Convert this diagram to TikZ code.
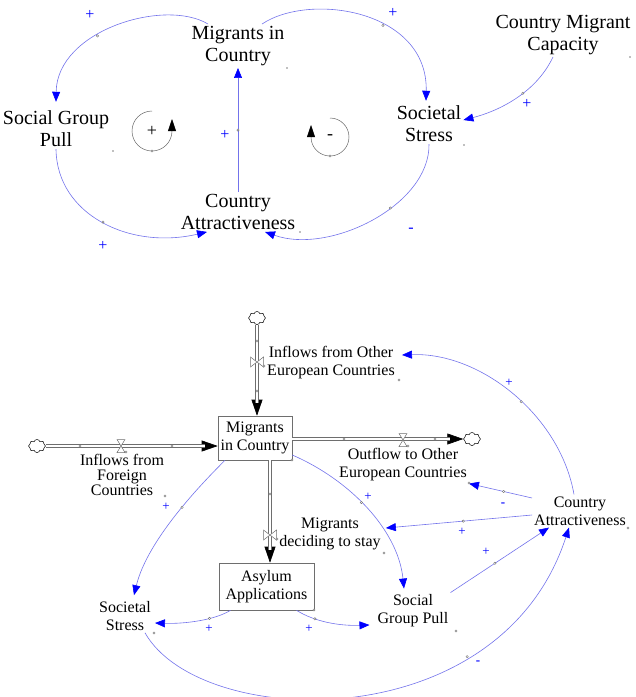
\documentclass[tikz,border=0pt]{standalone}
\usepackage{fontspec}
\setmainfont{Liberation Serif}
\usetikzlibrary{arrows.meta,shapes.symbols}
\definecolor{linkcol}{RGB}{115,115,235}
\definecolor{pipecol}{RGB}{110,110,110}
\tikzset{
  var/.style={font=\fontsize{20}{22}\selectfont, align=center, inner sep=2pt},
  svar/.style={font=\fontsize{16}{18}\selectfont, align=center, inner sep=2pt},
  stock/.style={svar, draw=pipecol, line width=0.6pt, minimum width=74pt, minimum height=44pt},
  link/.style={draw=linkcol, line width=0.6pt, -{Triangle[length=10pt,width=8pt,color=blue]}},
  pol/.style={text=blue, font=\fontsize{16}{16}\selectfont, inner sep=0pt},
  spol/.style={text=blue, font=\fontsize{13}{13}\selectfont, inner sep=0pt},
  pipe/.style={draw=pipecol, double=white, double distance=2.4pt, line width=0.6pt, shorten >=13pt},
  flowtip/.style={draw=black, line width=0.6pt, -{Triangle[length=16pt,width=11pt]}},
  hnd/.style={draw=pipecol, fill=white, line width=0.4pt},
  src/.style={cloud, cloud puffs=8, draw, line width=0.5pt, fill=white, minimum width=17pt, minimum height=13pt, inner sep=0pt},
  loopc/.style={draw=gray!80!black, line width=0.5pt, -{Triangle[length=12pt,width=8pt,black]}},
  valveh/.pic={\draw[hnd, line width=0.5pt] (-4,-6.5) -- (4,-6.5) -- (-4,6.5) -- (4,6.5) -- cycle;
               \draw[hnd] (5,6) circle (1.2pt);},
  valvev/.pic={\draw[hnd, line width=0.5pt] (-6.5,-5) -- (-6.5,5) -- (6.5,-5) -- (6.5,5) -- cycle;
               \draw[hnd] (7,4) circle (1.2pt);},
}
\begin{document}
\begin{tikzpicture}[x=1pt,y=-1pt]
\useasboundingbox (0,0) rectangle (636,697);

% causal loop diagram
\node[var] (mic) at (238,46) {Migrants in\\Country};
\node[var] (sgp) at (56,129) {Social Group\\Pull};
\node[var] (ss) at (429,124) {Societal\\Stress};
\node[var] (cmc) at (563,35) {Country Migrant\\Capacity};
\node[var] (ca) at (238,212) {Country\\Attractiveness};

\draw[link] ([xshift=-30pt]mic.north) .. controls (165,-2) and (57,30) .. ([yshift=7pt]sgp.north) coordinate[pos=.6] (h1);
\draw[link] (sgp.south) .. controls (57,215) and (130,250) .. ([xshift=-31pt]ca.south) coordinate[pos=.5] (h2);
\draw[link] (ca) -- (mic) coordinate[pos=.5] (h3);
\draw[link] ([xshift=24pt]mic.north) .. controls (310,-8) and (428,10) .. ([xshift=-3pt,yshift=3pt]ss.north) coordinate[pos=.6] (h4);
\draw[link] (ss.south) .. controls (430,205) and (330,255) .. ([xshift=27pt]ca.south) coordinate[pos=.4] (h5);
\draw[link] ([xshift=-10pt]cmc.south) .. controls (535,95) and (495,112) .. ([yshift=4pt]ss.east) coordinate[pos=.4] (h6);

\node[pol] (s1) at (90,15) {+};
\node[pol] (s2) at (103,246) {+};
\node[pol] (s3) at (225,135) {+};
\node[pol] (s4) at (393,13) {+};
\node[pol] (s5) at (411,230) {-};
\node[pol] (s6) at (527,104) {+};

% loop markers
\draw[loopc] (152,111) arc[start angle=270, end angle=0, radius=20] -- ++(0,-12);
\node[font=\fontsize{18}{18}\selectfont] (l1) at (152,131) {+};
\draw[loopc] (330,118) arc[start angle=-90, end angle=180, radius=19] -- ++(0,-12);
\node[font=\fontsize{18}{18}\selectfont] (l2) at (330,137) {-};

% stock and flow diagram
\node[stock] (mic2) at (255,438) {Migrants\\in Country};
\node[stock, minimum width=95pt, minimum height=47pt] (asy) at (266.5,586.5) {Asylum\\Applications};
\node[svar] (ca2) at (580,511) {Country\\Attractiveness};
\node[svar] (sgp2) at (413,611) {Social\\Group Pull};
\node[svar] (ss2) at (125,616) {Societal\\Stress};
\node[svar] (ifo) at (331,363) {Inflows from Other\\European Countries};
\node[svar, font=\fontsize{16}{15}\selectfont] (iff) at (122,475) {Inflows from\\Foreign\\Countries};
\node[svar] (out) at (403,465) {Outflow to Other\\European Countries};
\node[svar] (stay) at (330,534) {Migrants\\deciding to stay};

\node[src] (ctop) at (257,318) {};
\node[src] (cleft) at (37,446) {};
\node[src] (cright) at (472,439) {};
\coordinate (vs) at (270,535);

\draw[flowtip] (ctop) -- (ctop |- mic2.north);
\draw[pipe] (ctop) -- (ctop |- mic2.north);
\draw[flowtip] (cleft) -- (cleft -| mic2.west);
\draw[pipe] (cleft) -- (cleft -| mic2.west);
\draw[flowtip] (mic2.east |- cright) -- (cright);
\draw[pipe] (mic2.east |- cright) -- (cright);
\draw[flowtip] (mic2.south -| vs) -- (asy.north -| vs);
\draw[pipe] (mic2.south -| vs) -- (asy.north -| vs);

\pic at (257,362) {valvev};
\pic at (121,446) {valveh};
\pic at (403,440) {valveh};
\pic at (vs) {valvev};

\draw[link] ([xshift=-6pt]ca2.north) .. controls (560,415) and (480,352) .. ([xshift=5pt,yshift=8pt]ifo.east) coordinate[pos=.45] (h7);
\draw[link] ([yshift=13pt]ca2.west) -- (out.south east) coordinate[pos=.45] (h8);
\draw[link] ([yshift=-4pt]ca2.west) -- ([xshift=3pt,yshift=6pt]stay.east) coordinate[pos=.47] (h9);
\draw[link] (sgp2.north east) -- ([xshift=-31pt]ca2.south) coordinate[pos=.45] (h10);
\draw[link] ([xshift=20pt]ss2.south) .. controls (200,730) and (500,740) .. ([xshift=-11pt]ca2.south) coordinate[pos=.72] (h11);
\draw[link] ([xshift=-30pt]mic2.south) .. controls (180,505) and (145,550) .. ([xshift=9pt,yshift=4pt]ss2.north) coordinate[pos=.35] (h12);
\draw[link] ([yshift=-17pt]mic2.east) .. controls (350,480) and (398,530) .. ([xshift=-9pt,yshift=4pt]sgp2.north) coordinate[pos=.45] (h13);
\draw[link] ([xshift=-36pt]asy.south) .. controls (215,620) and (185,624) .. ([xshift=2pt,yshift=-7pt]ss2.east) coordinate[pos=.35] (h14);
\draw[link] ([xshift=30pt]asy.south) .. controls (315,622) and (340,626) .. ([xshift=-6pt,yshift=-14pt]sgp2.west) coordinate[pos=.3] (h15);

\node[spol] (s7) at (509,383) {+};
\node[spol] (s8) at (503,505) {\textbf{-}};
\node[spol] (s9) at (462,532) {+};
\node[spol] (s10) at (486,552) {+};
\node[spol] (s11) at (478,663) {\textbf{-}};
\node[spol] (s12) at (166,507) {+};
\node[spol] (s13) at (368,497) {+};
\node[spol] (s14) at (209,629) {+};
\node[spol] (s15) at (309,629) {+};

% handles and name marks
\foreach \h in {h1,h2,h3,h4,h5,h6,h7,h8,h9,h10,h11,h12,h13,h14,h15}
  \draw[hnd] (\h) circle (1.2pt);
\foreach \p in {(152,151),(330,156),(257,341),(257,391),(80,446),(172,446),(344,439),(435,439),(270,494),
                (399,380),(165,496),(469,483),(384,553),(628,528),(456,631),(154,633),(292,460),(314,610)}
  \draw[hnd] \p circle (1.2pt);
\foreach \p in {(287,68),(113,151),(300,232),(630,57),(464,145)}
  \fill[gray] \p circle (0.9pt);
\end{tikzpicture}
\end{document}
